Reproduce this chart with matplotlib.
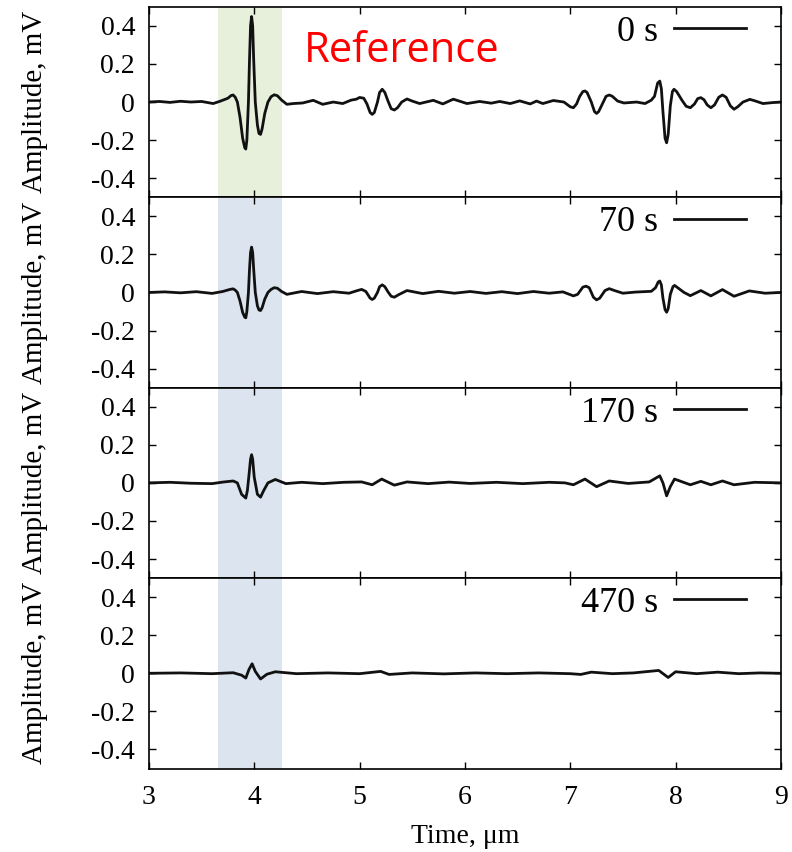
import numpy as np
import matplotlib
matplotlib.use('Agg')
from matplotlib import pyplot as plt

# Time axis (um) and amplitude (mV)
labels = ['0 s', '70 s', '170 s', '470 s']

t0 = [3.00, 3.10, 3.20, 3.30, 3.40, 3.50, 3.61, 3.68, 3.75, 3.78, 3.80, 3.82, 3.84, 3.865,
      3.89, 3.91, 3.92, 3.93, 3.945, 3.955, 3.965, 3.975, 3.985, 3.995, 4.01, 4.03, 4.045,
      4.06, 4.075, 4.10, 4.13, 4.16, 4.19, 4.22, 4.26, 4.31, 4.37, 4.46, 4.56, 4.65, 4.75,
      4.84, 4.92, 4.97, 5.00, 5.04, 5.07, 5.10, 5.12, 5.14, 5.17, 5.19, 5.215, 5.24, 5.27,
      5.30, 5.33, 5.36, 5.40, 5.45, 5.50, 5.57, 5.70, 5.79, 5.89, 6.02, 6.14, 6.25, 6.33,
      6.43, 6.52, 6.62, 6.68, 6.74, 6.84, 6.94, 7.00, 7.03, 7.06, 7.09, 7.12, 7.14, 7.16,
      7.20, 7.23, 7.25, 7.27, 7.31, 7.34, 7.37, 7.40, 7.45, 7.51, 7.63, 7.71, 7.77, 7.80,
      7.83, 7.85, 7.865, 7.88, 7.90, 7.915, 7.93, 7.95, 7.97, 7.985, 8.01, 8.06, 8.10, 8.14,
      8.18, 8.21, 8.24, 8.27, 8.30, 8.335, 8.37, 8.41, 8.445, 8.48, 8.52, 8.555, 8.59, 8.64,
      8.705, 8.76, 8.83, 8.92, 9.00]
a0 = [0.000, 0.003, -0.002, 0.004, 0.000, 0.003, -0.008, 0.005, 0.020, 0.034, 0.037, 0.025,
      0.000, -0.080, -0.190, -0.240, -0.247, -0.200, 0.000, 0.220, 0.400, 0.449, 0.400,
      0.220, 0.000, -0.120, -0.165, -0.170, -0.140, -0.060, 0.000, 0.028, 0.038, 0.033,
      0.010, -0.012, -0.008, -0.005, 0.009, -0.012, 0.000, -0.008, 0.010, 0.015, 0.024,
      0.020, -0.010, -0.055, -0.065, -0.055, 0.000, 0.050, 0.067, 0.050, 0.005, -0.035,
      -0.042, -0.030, 0.000, 0.016, 0.005, -0.008, 0.009, -0.010, 0.015, -0.008, 0.003,
      -0.006, 0.003, -0.008, 0.006, -0.010, 0.005, -0.008, 0.008, 0.000, -0.025, -0.030,
      -0.010, 0.030, 0.055, 0.058, 0.050, 0.000, -0.050, -0.060, -0.050, -0.005, 0.030,
      0.037, 0.030, 0.005, -0.005, 0.000, -0.008, 0.010, 0.030, 0.100, 0.110, 0.070,
      -0.050, -0.190, -0.214, -0.170, -0.020, 0.055, 0.067, 0.055, 0.010, -0.022, -0.030,
      -0.010, 0.018, 0.023, 0.012, -0.015, -0.030, -0.015, 0.025, 0.037, 0.025, -0.020,
      -0.038, -0.025, 0.000, 0.014, 0.005, -0.008, -0.003, 0.000]

t1 = [3.00, 3.15, 3.30, 3.45, 3.60, 3.70, 3.77, 3.80, 3.82, 3.84, 3.865, 3.89, 3.91, 3.92,
      3.93, 3.945, 3.955, 3.965, 3.975, 3.985, 3.995, 4.01, 4.03, 4.045, 4.06, 4.075, 4.10,
      4.13, 4.16, 4.19, 4.22, 4.26, 4.31, 4.45, 4.60, 4.75, 4.90, 4.98, 5.02, 5.06, 5.10,
      5.12, 5.14, 5.17, 5.19, 5.215, 5.24, 5.27, 5.30, 5.33, 5.37, 5.45, 5.60, 5.75, 5.90,
      6.05, 6.20, 6.35, 6.50, 6.65, 6.80, 6.93, 7.03, 7.07, 7.12, 7.15, 7.18, 7.22, 7.25,
      7.28, 7.33, 7.37, 7.42, 7.50, 7.62, 7.77, 7.81, 7.835, 7.85, 7.865, 7.88, 7.90, 7.915,
      7.93, 7.95, 7.975, 7.99, 8.02, 8.08, 8.14, 8.24, 8.335, 8.445, 8.555, 8.70, 8.85, 9.00]
a1 = [0.000, 0.003, -0.002, 0.004, -0.005, 0.005, 0.016, 0.019, 0.012, 0.000, -0.045,
      -0.105, -0.130, -0.133, -0.100, 0.000, 0.120, 0.210, 0.238, 0.210, 0.120, 0.000,
      -0.070, -0.092, -0.095, -0.080, -0.035, 0.000, 0.016, 0.025, 0.022, 0.005, -0.010,
      0.005, -0.006, 0.004, -0.004, 0.010, 0.016, 0.005, -0.030, -0.037, -0.030, 0.000,
      0.030, 0.040, 0.030, 0.003, -0.020, -0.025, -0.012, 0.010, -0.006, 0.006, -0.004,
      0.005, -0.005, 0.004, -0.006, 0.005, -0.004, 0.003, -0.018, -0.010, 0.028, 0.033,
      0.025, -0.025, -0.039, -0.030, 0.010, 0.020, 0.010, -0.004, 0.002, 0.006, 0.025,
      0.055, 0.060, 0.040, -0.030, -0.090, -0.104, -0.085, -0.010, 0.030, 0.037, 0.025,
      0.000, -0.017, 0.010, -0.018, 0.015, -0.020, 0.008, -0.004, 0.000]

t2 = [3.00, 3.20, 3.40, 3.60, 3.70, 3.80, 3.84, 3.88, 3.92, 3.935, 3.95, 3.965, 3.975, 3.985,
      4.00, 4.03, 4.06, 4.09, 4.13, 4.20, 4.30, 4.45, 4.65, 4.85, 5.02, 5.12, 5.21, 5.33,
      5.45, 5.65, 5.85, 6.05, 6.30, 6.55, 6.80, 6.95, 7.03, 7.14, 7.25, 7.37, 7.55, 7.75,
      7.85, 7.88, 7.915, 7.95, 7.99, 8.14, 8.24, 8.335, 8.445, 8.555, 8.75, 9.00]
a2 = [0.000, 0.003, -0.002, -0.004, 0.004, 0.010, 0.000, -0.060, -0.080, -0.040, 0.040,
      0.125, 0.148, 0.125, 0.030, -0.060, -0.075, -0.040, 0.000, 0.018, -0.004, 0.003,
      -0.004, 0.003, 0.005, -0.010, 0.020, -0.012, 0.005, -0.004, 0.004, -0.003, 0.003,
      -0.004, 0.003, 0.000, -0.010, 0.020, -0.020, 0.010, -0.003, 0.005, 0.037, 0.000,
      -0.068, -0.020, 0.020, -0.010, 0.008, -0.010, 0.010, -0.010, 0.003, 0.000]

t3 = [3.00, 3.30, 3.60, 3.80, 3.88, 3.92, 3.95, 3.98, 4.01, 4.06, 4.12, 4.20, 4.40, 4.70,
      5.00, 5.20, 5.28, 5.50, 5.80, 6.10, 6.40, 6.70, 7.00, 7.10, 7.20, 7.40, 7.60, 7.84,
      7.93, 8.00, 8.20, 8.40, 8.60, 8.80, 9.00]
a3 = [0.000, 0.002, -0.002, 0.003, -0.010, -0.025, 0.020, 0.050, 0.010, -0.030, -0.005,
      0.008, -0.002, 0.002, -0.002, 0.010, -0.006, 0.002, -0.003, 0.002, -0.002, 0.002,
      -0.002, -0.006, 0.006, -0.002, 0.002, 0.015, -0.022, 0.008, -0.002, 0.006, -0.002,
      0.002, 0.000]

times = [t0, t1, t2, t3]
amps = [a0, a1, a2, a3]
shade = (3.655, 4.263)
shade_colors = ['#e6f0da', '#dbe4ef', '#dbe4ef', '#dbe4ef']

plt.rcParams['font.family'] = ['Liberation Serif', 'DejaVu Serif']
plt.rcParams['axes.unicode_minus'] = False

fig, axs = plt.subplots(4, 1, sharex=True, figsize=(7.92, 8.52), dpi=100)
fig.subplots_adjust(left=0.188, right=0.986, top=0.992, bottom=0.098, hspace=0)

for i, ax in enumerate(axs):
    ax.axvspan(shade[0], shade[1], color=shade_colors[i], lw=0, zorder=0)
    ax.plot(times[i], amps[i], color='#111111', lw=2.0, label=labels[i],
            solid_joinstyle='round')
    ax.set_xlim(3, 9)
    ax.set_ylim(-0.5, 0.5)
    ax.set_yticks([-0.4, -0.2, 0, 0.2, 0.4])
    ax.set_yticklabels(['-0.4', '-0.2', '0', '0.2', '0.4'])
    ax.tick_params(direction='in', top=True, right=True, length=5, width=1,
                   labelsize=20, pad=10)
    for s in ax.spines.values():
        s.set_linewidth(1.2)
    ax.set_ylabel('Amplitude, mV', fontsize=21)
    ax.yaxis.set_label_coords(-0.16, 0.5)
    leg = ax.legend(loc='upper right', bbox_to_anchor=(0.968, 1.03), frameon=False,
                    fontsize=26, markerfirst=False, handlelength=2.0,
                    handletextpad=0.45, borderaxespad=0.1, borderpad=0.3)
    leg.get_lines()[0].set_linewidth(2.0)

axs[-1].set_xticks([3, 4, 5, 6, 7, 8, 9])
axs[-1].tick_params(axis='x', pad=12)
axs[-1].set_xlabel('Time, μm', fontsize=20, labelpad=10)

axs[0].text(0.245, 0.77, 'Reference', transform=axs[0].transAxes, color='red',
            fontsize=30, family='Open Sans', va='center', ha='left')

fig.savefig('out.png', dpi=100)
